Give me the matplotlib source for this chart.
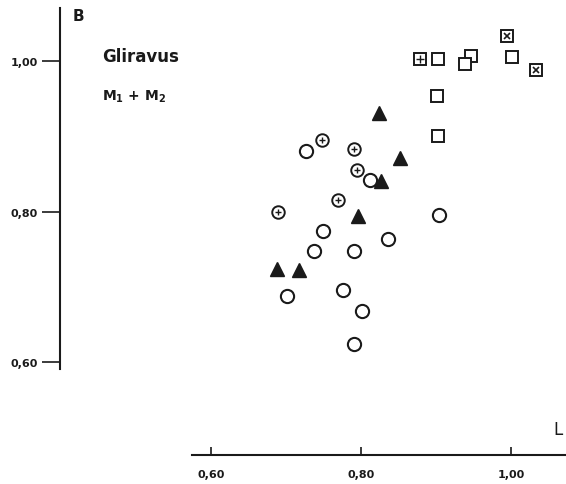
import matplotlib
matplotlib.use("Agg")
import matplotlib.pyplot as plt

# Gliravus M1+M2 : length L vs breadth B
circle_L = [0.726, 0.812, 0.904, 0.749, 0.836, 0.737, 0.790, 0.701, 0.776, 0.801, 0.790]
circle_B = [0.880, 0.842, 0.795, 0.774, 0.763, 0.748, 0.748, 0.688, 0.696, 0.668, 0.624]

plus_circle_L = [0.748, 0.791, 0.795, 0.769, 0.689]
plus_circle_B = [0.895, 0.883, 0.855, 0.815, 0.800]

triangle_L = [0.824, 0.852, 0.827, 0.796, 0.688, 0.717]
triangle_B = [0.931, 0.871, 0.840, 0.794, 0.723, 0.722]

square_L = [0.902, 0.946, 0.939, 1.001, 0.901, 0.902]
square_B = [1.003, 1.007, 0.996, 1.005, 0.953, 0.900]

plus_square_L = [0.879]
plus_square_B = [1.003]

cross_square_L = [0.995, 1.033]
cross_square_B = [1.033, 0.988]

x_ticks = [0.60, 0.80, 1.00]
x_ticklabels = ["0,60", "0,80", "1,00"]
y_ticks = [0.60, 0.80, 1.00]
y_ticklabels = ["0,60", "0,80", "1,00"]

ink = "#1a1a1a"

fig = plt.figure(figsize=(5.66, 4.85), dpi=100)
ax = fig.add_axes([0, 0, 1, 1])
ax.set_xlim(0.3187, 1.0733)
ax.set_ylim(0.4379, 1.0824)

# markers
ax.plot(circle_L, circle_B, ls="none", marker="o", ms=9.5, mfc="white", mec=ink, mew=1.5)
ax.plot(plus_circle_L, plus_circle_B, ls="none", marker="o", ms=9, mfc="white", mec=ink, mew=1.4)
ax.plot(plus_circle_L, plus_circle_B, ls="none", marker="+", ms=5, mec=ink, mew=1.0)
ax.plot(triangle_L, triangle_B, ls="none", marker="^", ms=10, mfc=ink, mec=ink)
ax.plot(square_L, square_B, ls="none", marker="s", ms=9, mfc="white", mec=ink, mew=1.4)
ax.plot(plus_square_L, plus_square_B, ls="none", marker="s", ms=9, mfc="white", mec=ink, mew=1.4)
ax.plot(plus_square_L, plus_square_B, ls="none", marker="+", ms=5.5, mec=ink, mew=1.0)
ax.plot(cross_square_L, cross_square_B, ls="none", marker="s", ms=9, mfc="white", mec=ink, mew=1.4)
ax.plot(cross_square_L, cross_square_B, ls="none", marker="x", ms=4, mec=ink, mew=1.2)

# axes drawn as detached spines
for s in ["top", "right"]:
    ax.spines[s].set_visible(False)
ax.spines["left"].set_position(("data", 0.3987))
ax.spines["left"].set_bounds(0.5907, 1.0704)
ax.spines["bottom"].set_position(("data", 0.4764))
ax.spines["bottom"].set_bounds(0.5747, 1.0733)
for s in ["left", "bottom"]:
    ax.spines[s].set_linewidth(1.5)
    ax.spines[s].set_color(ink)

ax.set_xticks(x_ticks)
ax.set_xticklabels(x_ticklabels, fontsize=8, fontweight="bold", color=ink)
ax.set_yticks(y_ticks)
ax.set_yticklabels(y_ticklabels, fontsize=8, fontweight="bold", color=ink)
ax.tick_params(axis="y", direction="out", length=13, width=1.2, pad=3, colors=ink)
ax.tick_params(axis="x", direction="in", length=6, width=1.2, pad=10, colors=ink)

# axis letters and titles
ax.text(0.4233, 1.0608, "B", fontsize=11, fontweight="bold", color=ink, ha="center", va="center")
ax.text(1.0627, 0.5112, "L", fontsize=12, color=ink, ha="center", va="center")
ax.text(0.4547, 1.0066, "Gliravus", fontsize=12, fontweight="bold", color=ink, ha="left", va="center")
ax.text(0.4547, 0.9535, r"M$_\mathbf{1}$ + M$_\mathbf{2}$", fontsize=10, fontweight="bold", color=ink,
        ha="left", va="center")

fig.savefig("out.png", dpi=100, facecolor="white")
